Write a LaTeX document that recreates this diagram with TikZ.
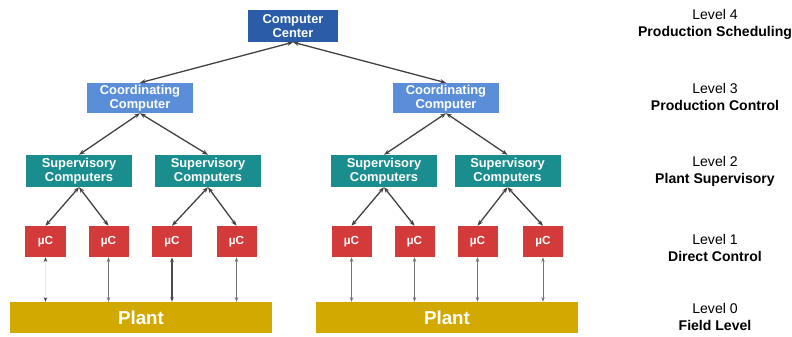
\documentclass[tikz,border=0pt]{standalone}
\usepackage{fontspec}
\setmainfont{Liberation Sans}
\usetikzlibrary{arrows.meta}

\definecolor{ccblue}{HTML}{2A5CA8}
\definecolor{coblue}{HTML}{5B8ED8}
\definecolor{supteal}{HTML}{1A8E8E}
\definecolor{ucred}{HTML}{D33A3A}
\definecolor{plantgold}{HTML}{D2A900}

\tikzset{
  box/.style={inner sep=0pt, align=center, text=white, font=\bfseries\fontsize{11}{11.5}\selectfont},
  ccbox/.style={box, fill=ccblue, minimum width=2.7cm, minimum height=0.96cm},
  cobox/.style={box, fill=coblue, minimum width=3.18cm, minimum height=0.9cm},
  supbox/.style={box, fill=supteal, minimum width=3.18cm, minimum height=0.96cm},
  ucbox/.style={box, fill=ucred, minimum width=1.2cm, minimum height=0.93cm, font=\bfseries\fontsize{10}{11}\selectfont},
  plantbox/.style={box, fill=plantgold, minimum width=7.86cm, minimum height=0.93cm, font=\bfseries\fontsize{16}{17}\selectfont},
  link/.style={{Stealth[length=5pt]}-{Stealth[length=5pt]}, draw=black!75, line width=1.1pt},
  io/.style={{Stealth[length=4pt]}-{Stealth[length=4pt]}, draw=black!55, line width=0.6pt},
  lvl/.style={align=center, font=\fontsize{12}{14.5}\selectfont}
}

\begin{document}
\begin{tikzpicture}[x=0.03cm,y=-0.03cm]
\useasboundingbox (0,0) rectangle (792,336);
% level 4 and 3
\node[ccbox] (cc) at (293,26) {Computer\\Center};
\node[cobox] (coL) at (140,98) {Coordinating\\Computer};
\node[cobox] (coR) at (446,98) {Coordinating\\Computer};
\draw[link] (cc.south) -- (coL.north);
\draw[link] (cc.south) -- (coR.north);
% level 2
\node[supbox] (s1) at (79,171) {Supervisory\\Computers};
\node[supbox] (s2) at (208,171) {Supervisory\\Computers};
\node[supbox] (s3) at (384,171) {Supervisory\\Computers};
\node[supbox] (s4) at (507.5,171) {Supervisory\\Computers};
\draw[link] (coL.south) -- (s1.north);
\draw[link] (coL.south) -- (s2.north);
\draw[link] (coR.south) -- (s3.north);
\draw[link] (coR.south) -- (s4.north);
% level 1
\foreach \n/\x/\s in {1/45.5/s1, 2/108.5/s1, 3/172/s2, 4/236.5/s2, 5/351.5/s3, 6/414.5/s3, 7/477.5/s4, 8/543/s4}{
  \node[ucbox] (u\n) at (\x,241.5) {µC};
  \draw[link] (\s.south) -- (u\n.north);
}
% level 0
\node[plantbox] (pL) at (141,317.5) {Plant};
\node[plantbox] (pR) at (447,317.5) {Plant};
\foreach \n in {1,2,3,4}{
  \coordinate (b\n) at (u\n.south |- pL.north);
}
\foreach \n in {5,6,7,8}{
  \coordinate (b\n) at (u\n.south |- pR.north);
}
\draw[{Stealth[length=4pt,color=black!75]}-{Stealth[length=4pt,color=black!75]}, draw=black!8, line width=0.6pt] (u1.south) -- (b1);
\draw[io] (u2.south) -- (b2);
\draw[io, line width=1.4pt, draw=black!70] (u3.south) -- (b3);
\draw[io, line width=1pt] (u4.south) -- (b4);
\foreach \n in {5,6,7,8}{
  \draw[io] (u\n.south) -- (b\n);
}
% levels
\node[lvl] (l4) at (715,24) {Level 4\\\textbf{Production Scheduling}};
\node[lvl] (l3) at (715,97) {Level 3\\\textbf{Production Control}};
\node[lvl] (l2) at (715,171.5) {Level 2\\\textbf{Plant Supervisory}};
\node[lvl] (l1) at (715,248) {Level 1\\\textbf{Direct Control}};
\node[lvl] (l0) at (715,317) {Level 0\\\textbf{Field Level}};
\end{tikzpicture}
\end{document}
